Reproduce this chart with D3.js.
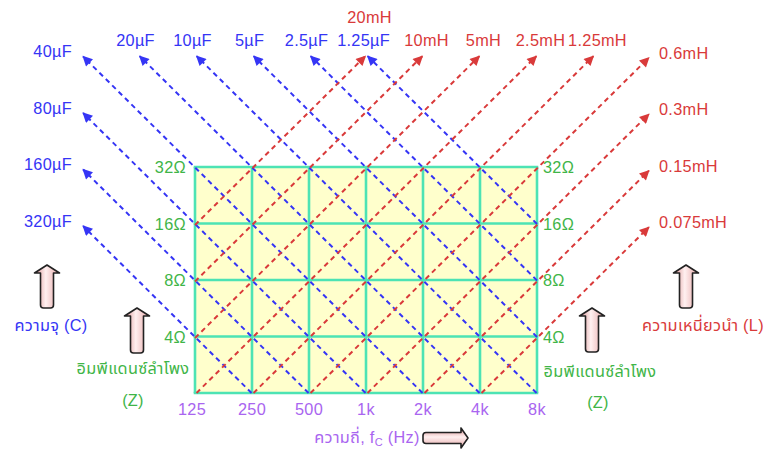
<!DOCTYPE html>
<html><head><meta charset="utf-8">
<script src="https://cdn.jsdelivr.net/npm/d3@7"></script>
<style>
html,body{margin:0;padding:0;background:#fff;}
svg{display:block;}
text{font-family:"Liberation Sans",Arial,"Noto Sans Thai","Noto Sans",sans-serif;letter-spacing:0.3px;}
</style></head>
<body>
<script>
// ---------- data ----------
const frequencies = [125, 250, 500, 1000, 2000, 4000, 8000];
const frequencyLabels = ["125", "250", "500", "1k", "2k", "4k", "8k"];
const impedances = [2, 4, 8, 16, 32];
const impedanceLabels = ["", "4Ω", "8Ω", "16Ω", "32Ω"];
const capacitanceUF = [320, 160, 80, 40, 20, 10, 5, 2.5, 1.25];
const capacitanceLabels = ["320µF", "160µF", "80µF", "40µF", "20µF", "10µF", "5µF", "2.5µF", "1.25µF"];
const inductanceMH = [20, 10, 5, 2.5, 1.25, 0.625, 0.3125, 0.15625, 0.078125];
const inductanceLabels = ["20mH", "10mH", "5mH", "2.5mH", "1.25mH", "0.6mH", "0.3mH", "0.15mH", "0.075mH"];
const texts = {
  cap: "ความจุ (C)",
  ind: "ความเหนี่ยวนำ (L)",
  imp: "อิมพีแดนซ์ลำโพง",
  impUnit: "(Z)",
  freq: "ความถี่, f",
  freqSub: "C",
  freqUnit: " (Hz)"
};

// ---------- layout ----------
const W = 773, H = 452;
const svg = d3.select("body").append("svg").attr("width", W).attr("height", H);
const x = d3.scaleLog().base(2).domain([125, 8000]).range([195, 537]);
const y = d3.scaleLog().base(2).domain([2, 32]).range([393, 167]);

const BLUE = "#3535f5", RED = "#d93a3a", GREEN = "#3fb548", PURPLE = "#a965f0", GRID = "#4de3b4";
const FS = 16.3;

const defs = svg.append("defs");
function marker(id, color) {
  defs.append("marker").attr("id", id).attr("viewBox", "0 0 10 10")
    .attr("refX", 9).attr("refY", 5).attr("markerWidth", 11).attr("markerHeight", 10)
    .attr("markerUnits", "userSpaceOnUse").attr("orient", "auto")
    .append("path").attr("d", "M0,0 L10,5 L0,10 Z").attr("fill", color);
}
marker("ab", BLUE); marker("ar", RED);
const gv = defs.append("linearGradient").attr("id", "gv").attr("x1", 0).attr("x2", 1).attr("y1", 0).attr("y2", 0);
gv.append("stop").attr("offset", "0").attr("stop-color", "#d88f8f");
gv.append("stop").attr("offset", "0.45").attr("stop-color", "#fff0f0");
gv.append("stop").attr("offset", "1").attr("stop-color", "#e5a5a5");
const gh = defs.append("linearGradient").attr("id", "gh").attr("x1", 0).attr("x2", 0).attr("y1", 0).attr("y2", 1);
gh.append("stop").attr("offset", "0").attr("stop-color", "#d88f8f");
gh.append("stop").attr("offset", "0.45").attr("stop-color", "#fff0f0");
gh.append("stop").attr("offset", "1").attr("stop-color", "#e5a5a5");

// background
const fmin = frequencies[0], fmax = frequencies[frequencies.length - 1];
const zmin = impedances[0], zmax = impedances[impedances.length - 1];
svg.append("rect").attr("x", x(fmin)).attr("y", y(zmax))
  .attr("width", x(fmax) - x(fmin)).attr("height", y(zmin) - y(zmax)).attr("fill", "#ffffcc");

// grid
svg.append("g").selectAll("line").data(frequencies).join("line")
  .attr("x1", d => x(d)).attr("x2", d => x(d)).attr("y1", y(zmin)).attr("y2", y(zmax))
  .attr("stroke", GRID).attr("stroke-width", 2.6);
svg.append("g").selectAll("line").data(impedances).join("line")
  .attr("y1", d => y(d)).attr("y2", d => y(d)).attr("x1", x(fmin) - 1.3).attr("x2", x(fmax) + 1.3)
  .attr("stroke", GRID).attr("stroke-width", 2.6);

// ---------- diagonal lines in log2 space ----------
const L2 = Math.log2;
const u0 = L2(fmin), u1 = L2(fmax), v0 = L2(zmin), v1 = L2(zmax);
const EXT = 2; // cells beyond grid

// capacitor: Z = 1/(2 pi f C)  -> u + v = k
const capLines = capacitanceUF.map((c, i) => {
  const k = L2(1 / (2 * Math.PI * c * 1e-6));
  const uTop = Math.max(u0, k - v1);
  const uEnd = Math.min(u1, k - v0);
  const tip = [uTop - EXT, (k - uTop) + EXT];
  return {label: capacitanceLabels[i], start: [uEnd, k - uEnd], tip};
});
// inductor: Z = 2 pi f L -> v - u = c
const indLines = inductanceMH.map((l, i) => {
  const c = L2(2 * Math.PI * l * 1e-3);
  const uTop = Math.min(u1, v1 - c);
  const uStart = Math.max(u0, v0 - c);
  const tip = [uTop + EXT, (uTop + c) + EXT];
  return {label: inductanceLabels[i], start: [uStart, uStart + c], tip};
});
const P = p => [x(Math.pow(2, p[0])), y(Math.pow(2, p[1]))];

function drawLines(data, color, mk) {
  svg.append("g").selectAll("line").data(data).join("line")
    .each(function(d) {
      const a = P(d.start), b = P(d.tip);
      const dx = b[0] - a[0], dy = b[1] - a[1], len = Math.hypot(dx, dy);
      const s = (len - 3) / len;
      d3.select(this).attr("x1", a[0]).attr("y1", a[1])
        .attr("x2", a[0] + dx * s).attr("y2", a[1] + dy * s);
    })
    .attr("stroke", color).attr("stroke-width", 2).attr("stroke-dasharray", "5,4")
    .attr("marker-end", `url(#${mk})`);
}
drawLines(capLines, BLUE, "ab");
drawLines(indLines, RED, "ar");

// labels for diagonal lines
capLines.forEach(d => {
  const [tx, ty] = P(d.tip);
  const onLeft = d.tip[0] <= u0 - EXT + 1e-6;
  const t = svg.append("text").attr("fill", BLUE).attr("font-size", FS).text(d.label);
  if (onLeft) t.attr("x", tx - 9).attr("y", ty + 3).attr("text-anchor", "end");
  else t.attr("x", tx - 2).attr("y", ty - 8).attr("text-anchor", "middle");
});
indLines.forEach(d => {
  const [tx, ty] = P(d.tip);
  const onRight = d.tip[0] >= u1 + EXT - 1e-6;
  const clash = capLines.some(c => Math.abs(c.tip[0] - d.tip[0]) < 0.1 && Math.abs(c.tip[1] - d.tip[1]) < 0.1);
  const t = svg.append("text").attr("fill", RED).attr("font-size", FS).text(d.label);
  if (onRight) t.attr("x", tx + 8).attr("y", ty + 3).attr("text-anchor", "start");
  else t.attr("x", tx + 2).attr("y", ty - (clash ? 31 : 8)).attr("text-anchor", "middle");
});

// impedance labels
impedances.forEach((z, i) => {
  if (!impedanceLabels[i]) return;
  svg.append("text").attr("x", x(fmin) - 9).attr("y", y(z) + 6).attr("text-anchor", "end")
    .attr("fill", GREEN).attr("font-size", FS).text(impedanceLabels[i]);
  svg.append("text").attr("x", x(fmax) + 6).attr("y", y(z) + 6).attr("text-anchor", "start")
    .attr("fill", GREEN).attr("font-size", FS).text(impedanceLabels[i]);
});
// frequency labels
svg.append("g").selectAll("text").data(frequencies).join("text")
  .attr("x", (d, i) => x(d) - (i === 0 ? 3 : 0)).attr("y", y(zmin) + 22).attr("text-anchor", "middle")
  .attr("fill", PURPLE).attr("font-size", FS).text((d, i) => frequencyLabels[i]);

// axis title
const ft = svg.append("text").attr("x", 367).attr("y", 443).attr("text-anchor", "middle")
  .attr("fill", PURPLE).attr("font-size", FS);
ft.append("tspan").text(texts.freq);
ft.append("tspan").attr("font-size", 11).attr("dy", 3).text(texts.freqSub);
ft.append("tspan").attr("dy", -3).text(texts.freqUnit);

// side texts
svg.append("text").attr("x", 51).attr("y", 331).attr("text-anchor", "middle")
  .attr("fill", BLUE).attr("font-size", FS).text(texts.cap);
svg.append("text").attr("x", 703).attr("y", 331).attr("text-anchor", "middle")
  .attr("fill", RED).attr("font-size", FS).text(texts.ind);
svg.append("text").attr("x", 133).attr("y", 374).attr("text-anchor", "middle")
  .attr("fill", GREEN).attr("font-size", FS).text(texts.imp);
svg.append("text").attr("x", 133).attr("y", 406).attr("text-anchor", "middle")
  .attr("fill", GREEN).attr("font-size", FS).text(texts.impUnit);
svg.append("text").attr("x", 600).attr("y", 377).attr("text-anchor", "middle")
  .attr("fill", GREEN).attr("font-size", FS).text(texts.imp);
svg.append("text").attr("x", 598).attr("y", 408).attr("text-anchor", "middle")
  .attr("fill", GREEN).attr("font-size", FS).text(texts.impUnit);

// block arrows
function upArrow(cx, top, bottom) {
  const bw = 6.5, hw = 12.5, hh = 8, r = 3;
  const d = `M${cx},${top} L${cx + hw},${top + hh} L${cx + bw},${top + hh} L${cx + bw},${bottom - r}
    Q${cx + bw},${bottom} ${cx + bw - r},${bottom} L${cx - bw + r},${bottom} Q${cx - bw},${bottom} ${cx - bw},${bottom - r}
    L${cx - bw},${top + hh} L${cx - hw},${top + hh} Z`;
  svg.append("path").attr("d", d).attr("fill", "url(#gv)").attr("stroke", "#222").attr("stroke-width", 1.6)
    .attr("stroke-linejoin", "round");
}
upArrow(47, 265, 308);
upArrow(137, 308, 353);
upArrow(592, 308, 352);
upArrow(686, 265, 308);
(function rightArrow(cy, left, right) {
  const bh = 5.5, hh = 10, hl = 7, r = 3;
  const d = `M${right},${cy} L${right - hl},${cy - hh} L${right - hl},${cy - bh} L${left + r},${cy - bh}
    Q${left},${cy - bh} ${left},${cy - bh + r} L${left},${cy + bh - r} Q${left},${cy + bh} ${left + r},${cy + bh}
    L${right - hl},${cy + bh} L${right - hl},${cy + hh} Z`;
  svg.append("path").attr("d", d).attr("fill", "url(#gh)").attr("stroke", "#222").attr("stroke-width", 1.6)
    .attr("stroke-linejoin", "round");
})(438, 423, 468);
</script>
</body></html>
